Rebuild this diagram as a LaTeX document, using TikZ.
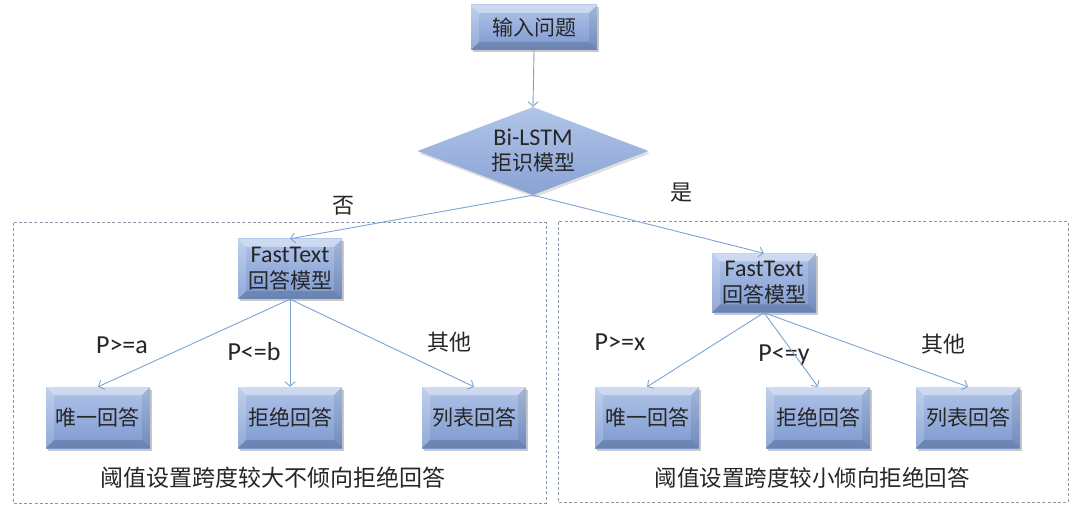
\documentclass[tikz,border=0pt]{standalone}
\usepackage{fontspec}
\setmainfont{Carlito}
\newfontfamily\cjk{Noto Sans CJK SC}
\usetikzlibrary{shapes.geometric,shadows,arrows.meta}
\definecolor{txt}{HTML}{262626}
\definecolor{boxtop}{HTML}{B2C5E9}
\definecolor{boxbot}{HTML}{7B98CF}
\definecolor{arrc}{HTML}{7EA4D5}
\definecolor{dashc}{HTML}{8A98A8}
\newcommand{\latf}{\fontsize{24pt}{26pt}\selectfont}
\tikzset{
  bx/.style={rectangle, inner sep=0pt, minimum width=104pt, minimum height=61pt,
    top color=boxtop, bottom color=boxbot, text=txt, align=center,
    font=\fontsize{21pt}{26pt}\selectfont,
    drop shadow={shadow xshift=1.5pt, shadow yshift=-2.5pt, opacity=.35, fill=black!60},
    path picture={
      \fill[white,opacity=.38] (path picture bounding box.north west) -- (path picture bounding box.north east)
        -- ([shift={(-8pt,-8pt)}]path picture bounding box.north east) -- ([shift={(8pt,-8pt)}]path picture bounding box.north west) -- cycle;
      \fill[white,opacity=.18] (path picture bounding box.north west) -- (path picture bounding box.south west)
        -- ([shift={(8pt,8pt)}]path picture bounding box.south west) -- ([shift={(8pt,-8pt)}]path picture bounding box.north west) -- cycle;
      \fill[black,opacity=.14] (path picture bounding box.south west) -- (path picture bounding box.south east)
        -- ([shift={(-8pt,8pt)}]path picture bounding box.south east) -- ([shift={(8pt,8pt)}]path picture bounding box.south west) -- cycle;
      \fill[black,opacity=.08] (path picture bounding box.north east) -- (path picture bounding box.south east)
        -- ([shift={(-8pt,8pt)}]path picture bounding box.south east) -- ([shift={(-8pt,-8pt)}]path picture bounding box.north east) -- cycle;
    }},
  dia/.style={diamond, shape aspect=2.625, inner sep=0pt, minimum width=231pt, minimum height=88pt,
    top color=boxtop, bottom color=boxbot!90!white, text=txt, align=center,
    font=\fontsize{21pt}{25pt}\selectfont,
    drop shadow={shadow xshift=1.5pt, shadow yshift=-2.5pt, opacity=.25, fill=black!50}},
  arr/.style={draw=arrc, line width=0.9pt, -{Straight Barb[length=4.5pt,width=10pt]}},
  dashbox/.style={draw=dashc, line width=1pt, dash pattern=on 3pt off 2.2pt},
  lab/.style={text=txt, font=\fontsize{22pt}{24pt}\selectfont, inner sep=0pt},
  latlab/.style={text=txt, font=\fontsize{26pt}{28pt}\selectfont, inner sep=0pt},
}
\begin{document}
\begin{tikzpicture}[x=1pt,y=-1pt]
\useasboundingbox[fill=white] (0,0) rectangle (1080,513);
% dashed groups
\draw[dashbox] (13,223) rectangle (546,503);
\draw[dashbox] (558,222) rectangle (1068,502);
% nodes
\node[bx, minimum width=126pt, minimum height=45pt] (q) at (534,27.5) {\cjk 输入问题};
\node[dia] (d) at (533,151) {{\latf Bi-LSTM}\\{\cjk 拒识模型}};
\node[bx, minimum height=60pt] (L) at (290,269) {{\latf FastText}\\{\cjk 回答模型}};
\node[bx, minimum height=59pt] (R) at (764,283) {{\latf FastText}\\{\cjk 回答模型}};
\node[bx] (L1) at (98,417.5) {\cjk 唯一回答};
\node[bx] (L2) at (290,417.5) {\cjk 拒绝回答};
\node[bx] (L3) at (474,417.5) {\cjk 列表回答};
\node[bx] (R1) at (647,417.5) {\cjk 唯一回答};
\node[bx] (R2) at (818,417.5) {\cjk 拒绝回答};
\node[bx] (R3) at (968,417.5) {\cjk 列表回答};
% labels
\node[lab] (no) at (343,206) {\cjk 否};
\node[lab] (yes) at (681,193) {\cjk 是};
\node[latlab] (la) at (122,345) {P>=a};
\node[latlab] (lb) at (254,352) {P<=b};
\node[lab] (lc) at (449,342) {\cjk 其他};
\node[latlab] (rx) at (620,342) {P>=x};
\node[latlab] (ry) at (784,355) {P<=y};
\node[lab] (rc) at (943,344) {\cjk 其他};
\node[lab, font=\fontsize{23pt}{25pt}\selectfont] (capL) at (273,478) {\cjk 阈值设置跨度较大不倾向拒绝回答};
\node[lab, font=\fontsize{22.5pt}{25pt}\selectfont] (capR) at (812,478) {\cjk 阈值设置跨度较小倾向拒绝回答};
% connectors
\draw[arr] (q.south) -- (d.north);
\draw[arr] (d.south) -- (L.north);
\draw[arr] (d.south) -- (R.north);
\draw[arr] (L.south) -- (L1.north);
\draw[arr] (L.south) -- (L2.north);
\draw[arr] (L.south) -- (L3.north);
\draw[arr] (R.south) -- (R1.north);
\draw[arr] (R.south) -- (R2.north);
\draw[arr] (R.south) -- (R3.north);
\end{tikzpicture}
\end{document}
